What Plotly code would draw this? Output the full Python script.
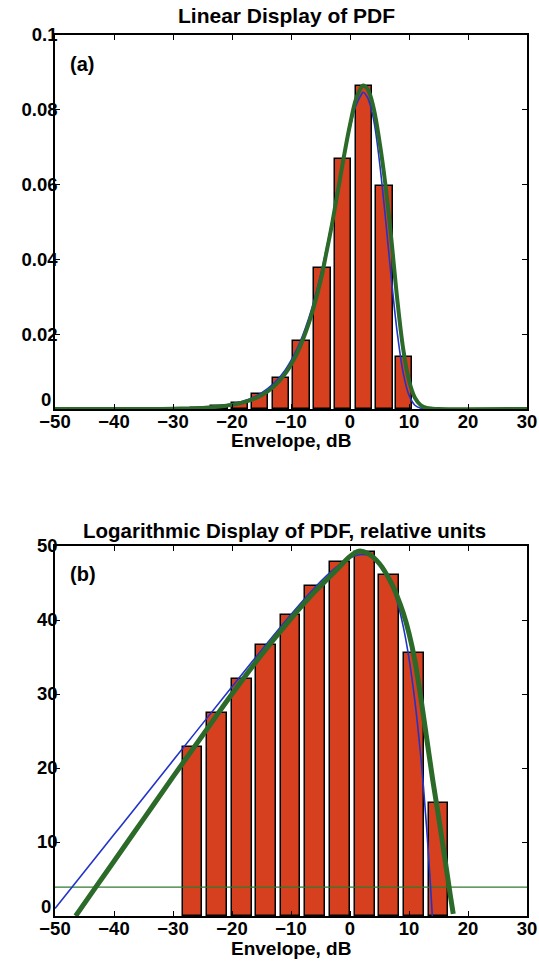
import plotly.graph_objects as go

W, H = 539, 971

# ---- Panel (a): linear PDF ----
a_bin_centers = [-25.6, -22.1, -18.64, -15.25, -11.69, -8.19, -4.69, -1.19, 2.37, 5.82, 9.15]
a_bin_heights = [0.0003, 0.0008, 0.0016, 0.0039, 0.0084, 0.0183, 0.0378, 0.0668, 0.0863, 0.0597, 0.0140]

a_blue_x = [-50, -40, -30, -25, -20, -17, -15, -13, -11, -9, -7, -5, -3, -1, 0, 1, 2, 2.2, 3, 4, 5, 6, 7, 8, 9, 10, 11, 12, 13, 15, 30]
a_blue_y = [0.0, 0.00001, 0.00014, 0.00044, 0.0014, 0.0027, 0.0043, 0.0067, 0.0104, 0.0160, 0.0242, 0.0357, 0.0506, 0.0676, 0.0752, 0.0811, 0.0843, 0.0847, 0.0832, 0.0774, 0.0661, 0.0512, 0.0350, 0.0205, 0.0098, 0.0037, 0.0010, 0.0002, 0.00002, 0.0, 0.0]

a_green_x = [-50, -30, -25, -20, -17, -15, -13, -11, -9, -7, -5, -4, -3, -1, 0, 1, 2, 2.2, 3, 4, 5, 6, 7, 8, 9, 10, 11, 12, 13, 14, 15, 30]
a_green_y = [0.0, 0.0001, 0.0003, 0.0011, 0.0023, 0.0037, 0.0059, 0.0094, 0.0148, 0.0228, 0.0342, 0.0418, 0.0498, 0.0678, 0.0760, 0.0828, 0.0862, 0.0865, 0.0855, 0.0805, 0.0715, 0.0600, 0.0455, 0.0295, 0.0162, 0.0076, 0.0030, 0.0010, 0.0003, 0.0001, 0.0, 0.0]

# ---- Panel (b): logarithmic PDF, relative units ----
b_bin_centers = [-26.7, -22.55, -18.33, -14.25, -10.1, -5.9, -1.7, 2.5, 6.67, 10.84, 15.0]
b_bin_heights = [22.9, 27.5, 32.0, 36.6, 40.7, 44.6, 47.9, 49.2, 46.1, 35.6, 15.3]

b_blue_x = [-50, -40, -30, -20, -15, -10, -6, -4, -2, 0, 1, 2, 3, 4, 5, 6, 7, 8, 9, 10, 11, 12, 12.5, 13, 13.5, 13.9, 13.95]
b_blue_y = [1.0, 11.0, 21.0, 30.97, 35.92, 40.74, 44.34, 45.96, 47.35, 48.38, 48.71, 48.85, 48.78, 48.43, 47.73, 46.58, 44.88, 42.49, 39.21, 34.83, 29.05, 21.52, 16.95, 11.78, 5.91, 0.66, 0.0]

b_green_x = [-46.5, -43, -40, -35, -30, -25, -20, -15, -10, -6, -4, -2, 0, 1.5, 3, 5, 7, 8, 9, 10, 11, 12, 13, 14, 15, 16, 17, 17.5]
b_green_y = [0.0, 4.0, 7.4, 13.1, 18.8, 24.4, 30.0, 35.3, 40.2, 43.8, 45.4, 47.0, 48.6, 49.3, 49.0, 47.6, 45.0, 43.2, 41.0, 38.2, 34.5, 29.5, 24.0, 18.5, 13.5, 8.2, 2.8, 0.3]

b_hline_x = [-50, 30]
b_hline_y = [3.9, 3.9]

x_ticks = [-50, -40, -30, -20, -10, 0, 10, 20, 30]
a_y_ticks = [0, 0.02, 0.04, 0.06, 0.08, 0.1]
a_y_ticktext = ["", "0.02", "0.04", "0.06", "0.08", "0.1"]
b_y_ticks = [0, 10, 20, 30, 40, 50]
b_y_ticktext = ["", "10", "20", "30", "40", "50"]

BAR = "#D6401E"
GREEN = "#2C6A2A"
HLINE = "#2F7A2F"
BLUE = "#2233C8"
FONT = "Liberation Sans, Arial, sans-serif"

fig = go.Figure()

fig.add_trace(go.Bar(x=a_bin_centers, y=a_bin_heights, width=2.8, marker=dict(color=BAR, line=dict(color="black", width=1.5)), xaxis="x", yaxis="y"))
fig.add_trace(go.Scatter(x=a_blue_x, y=a_blue_y, mode="lines", line=dict(color=BLUE, width=1.6, shape="spline"), xaxis="x", yaxis="y"))
fig.add_trace(go.Scatter(x=a_green_x, y=a_green_y, mode="lines", line=dict(color=GREEN, width=4, shape="spline"), xaxis="x", yaxis="y"))

fig.add_trace(go.Bar(x=b_bin_centers, y=b_bin_heights, width=3.35, marker=dict(color=BAR, line=dict(color="black", width=1.5)), xaxis="x2", yaxis="y2"))
fig.add_trace(go.Scatter(x=b_hline_x, y=b_hline_y, mode="lines", line=dict(color=HLINE, width=1.3), xaxis="x2", yaxis="y2"))
fig.add_trace(go.Scatter(x=b_blue_x, y=b_blue_y, mode="lines", line=dict(color=BLUE, width=1.6, shape="spline"), xaxis="x2", yaxis="y2"))
fig.add_trace(go.Scatter(x=b_green_x, y=b_green_y, mode="lines", line=dict(color=GREEN, width=5, shape="spline"), xaxis="x2", yaxis="y2"))

def px_x(p):
    return p / W

def px_y(p):
    return 1 - p / H

axis_common = dict(showgrid=False, zeroline=False, showline=True, linecolor="black", linewidth=1.5,
                   mirror="ticks", ticks="inside", ticklen=5, tickwidth=1.2, tickcolor="black",
                   automargin=False,
                   tickfont=dict(family=FONT, size=18.5, color="black", weight="bold"))

fig.update_layout(
    width=W, height=H,
    margin=dict(l=0, r=0, t=0, b=0, autoexpand=False),
    paper_bgcolor="white", plot_bgcolor="white",
    showlegend=False, bargap=0,
    xaxis=dict(domain=[px_x(55), px_x(527)], range=[-50, 30], tickvals=x_ticks, anchor="y", ticklabelstandoff=-5, **axis_common),
    yaxis=dict(domain=[px_y(409), px_y(35)], range=[0, 0.1], tickvals=a_y_ticks, ticktext=a_y_ticktext, anchor="x", ticklabelstandoff=-8, **axis_common),
    xaxis2=dict(domain=[px_x(55), px_x(527)], range=[-50, 30], tickvals=x_ticks, anchor="y2", ticklabelstandoff=-5, **axis_common),
    yaxis2=dict(domain=[px_y(916), px_y(546)], range=[0, 50], tickvals=b_y_ticks, ticktext=b_y_ticktext, anchor="x2", ticklabelstandoff=-8, **axis_common),
)

def txt(x, y, s, size, xanchor="center"):
    fig.add_annotation(x=px_x(x), y=px_y(y), xref="paper", yref="paper", text="<b>" + s + "</b>",
                       showarrow=False, xanchor=xanchor, yanchor="middle",
                       font=dict(family=FONT, size=size, color="black"))

txt(286, 16, "Linear Display of PDF", 21)
txt(291, 440, "Envelope, dB", 19)
txt(68, 64, "(a)", 20, "left")
txt(284, 530, "Logarithmic Display of PDF, relative units", 20.5)
txt(291, 948, "Envelope, dB", 19)
txt(68, 574, "(b)", 20, "left")
# y-axis zero labels, sitting just above the x-axis tick labels as in the reference
txt(53, 399, "0", 18.5, "right")
txt(53, 906, "0", 18.5, "right")

fig.write_html("out.html")
